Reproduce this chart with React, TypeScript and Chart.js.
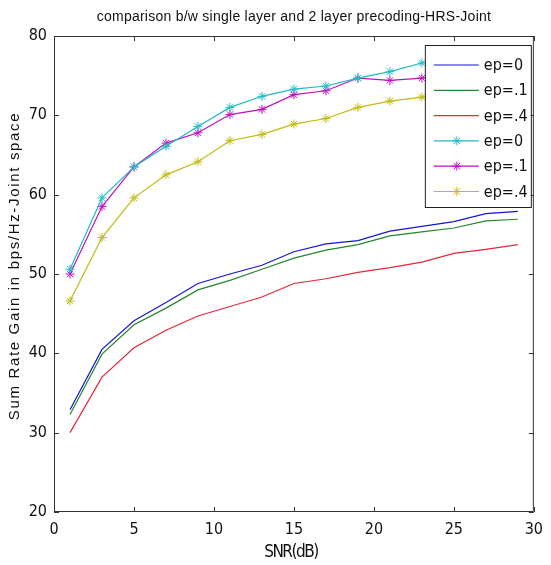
import React, { useEffect, useRef } from "react";
import { Chart, registerables } from "chart.js";

Chart.register(...registerables);

const snr = [1, 3, 5, 7, 9, 11, 13, 15, 17, 19, 21, 23, 25, 27, 29];
const singleEp0 = [32.9, 40.5, 44.1, 46.4, 48.8, 50.0, 51.1, 52.8, 53.8, 54.2, 55.4, 56.0, 56.6, 57.6, 57.9];
const singleEp1 = [32.3, 39.9, 43.6, 45.7, 48.0, 49.2, 50.6, 52.0, 53.0, 53.7, 54.8, 55.3, 55.8, 56.7, 56.9];
const singleEp4 = [30.0, 37.0, 40.7, 42.9, 44.7, 45.9, 47.1, 48.8, 49.4, 50.2, 50.8, 51.5, 52.6, 53.1, 53.7];
const twoEp0 = [50.6, 59.6, 63.5, 66.1, 68.6, 71.0, 72.4, 73.3, 73.7, 74.7, 75.5, 76.6, 77.2, 77.8, 78.3];
const twoEp1 = [50.0, 58.5, 63.5, 66.5, 67.8, 70.1, 70.75, 72.6, 73.1, 74.7, 74.4, 74.7, 75.4, 75.9, 76.6];
const twoEp4 = [46.6, 54.6, 59.6, 62.5, 64.15, 66.8, 67.6, 68.9, 69.6, 71.0, 71.8, 72.3, 72.8, 73.4, 73.9];
const legendLabels = ["ep=0", "ep=.1", "ep=.4", "ep=0", "ep=.1", "ep=.4"];
const titleText = "comparison b/w single layer and 2 layer precoding-HRS-Joint";
const xTitle = "SNR(dB)";
const yTitle = "Sum Rate Gain in bps/Hz-Joint space";

const NARROW = "'Liberation Sans Narrow', 'DejaVu Sans Condensed', 'Arial Narrow', sans-serif";
const REG = "'Liberation Sans', Arial, sans-serif";
const AXIS = "#333333";

function fitText(ctx: CanvasRenderingContext2D, text: string, target: number) {
  (ctx as any).letterSpacing = "0px";
  const w = ctx.measureText(text).width;
  const ls = (target - w) / Math.max(1, text.length - 1);
  (ctx as any).letterSpacing = ls.toFixed(2) + "px";
}

const decorPlugin = {
  id: "decor",
  afterDatasetsDraw(chart: any) {
    const { ctx, chartArea, scales } = chart;
    const { left, right, top, bottom } = chartArea;
    ctx.save();
    ctx.strokeStyle = AXIS;
    ctx.lineWidth = 1;
    ctx.beginPath();
    ctx.rect(left + 0.5, top + 0.5, right - left - 1, bottom - top - 1);
    ctx.stroke();
    const tl = 5;
    ctx.beginPath();
    scales.x.ticks.forEach((t: any) => {
      const px = Math.round(scales.x.getPixelForValue(t.value)) + 0.5;
      ctx.moveTo(px, bottom);
      ctx.lineTo(px, bottom - tl);
      ctx.moveTo(px, top);
      ctx.lineTo(px, top + tl);
    });
    scales.y.ticks.forEach((t: any) => {
      const py = Math.round(scales.y.getPixelForValue(t.value)) + 0.5;
      ctx.moveTo(left, py);
      ctx.lineTo(left + tl, py);
      ctx.moveTo(right, py);
      ctx.lineTo(right - tl, py);
    });
    ctx.stroke();
    ctx.restore();
  },
  afterDraw(chart: any) {
    const { ctx, chartArea } = chart;
    const { left, right, top, bottom } = chartArea;
    ctx.save();
    // title
    ctx.fillStyle = "#111";
    ctx.font = "14px " + REG;
    ctx.textAlign = "center";
    ctx.textBaseline = "middle";
    fitText(ctx, titleText, 394);
    ctx.fillText(titleText, (left + right) / 2, 17);
    // x title
    ctx.font = "17px " + NARROW;
    fitText(ctx, xTitle, 55);
    ctx.fillText(xTitle, (left + right) / 2 - 3, 553);
    // y title
    ctx.save();
    ctx.translate(15, (top + bottom) / 2 - 8);
    ctx.rotate(-Math.PI / 2);
    ctx.font = "15px " + REG;
    fitText(ctx, yTitle, 307);
    ctx.fillText(yTitle, 0, 0);
    ctx.restore();
    (ctx as any).letterSpacing = "0px";

    // legend
    const bx = right - 109;
    const bw = 106;
    const by = top + 9;
    const bh = 162;
    ctx.fillStyle = "#ffffff";
    ctx.fillRect(bx, by, bw, bh);
    ctx.strokeStyle = "#222";
    ctx.lineWidth = 1;
    ctx.strokeRect(bx + 0.5, by + 0.5, bw, bh);
    const ds = chart.data.datasets;
    ds.forEach((d: any, i: number) => {
      const ry = by + 20 + i * 25.3;
      ctx.strokeStyle = d.borderColor;
      ctx.lineWidth = 1.2;
      ctx.beginPath();
      ctx.moveTo(bx + 9, ry);
      ctx.lineTo(bx + 54, ry);
      ctx.stroke();
      if (d.pointRadius > 0) {
        const cx = bx + 32;
        const r = 4.5;
        ctx.lineWidth = 1;
        ctx.beginPath();
        ctx.moveTo(cx - r, ry);
        ctx.lineTo(cx + r, ry);
        ctx.moveTo(cx, ry - r);
        ctx.lineTo(cx, ry + r);
        const q = r * 0.7071;
        ctx.moveTo(cx - q, ry - q);
        ctx.lineTo(cx + q, ry + q);
        ctx.moveTo(cx - q, ry + q);
        ctx.lineTo(cx + q, ry - q);
        ctx.stroke();
      }
      ctx.fillStyle = "#111";
      ctx.font = "16px " + NARROW;
      ctx.textAlign = "left";
      ctx.textBaseline = "middle";
      ctx.fillText(legendLabels[i], bx + 59, ry + 1);
    });
    ctx.restore();
  },
};

function series(vals: number[]) {
  return snr.map((x, i) => ({ x, y: vals[i] }));
}

export default function App() {
  const ref = useRef<HTMLCanvasElement>(null);
  useEffect(() => {
    if (!ref.current) return;
    const mk = (label: string, vals: number[], color: string, marker: boolean) => ({
      label,
      data: series(vals),
      borderColor: color,
      backgroundColor: color,
      borderWidth: 1.2,
      pointRadius: marker ? 4.5 : 0,
      pointHoverRadius: marker ? 4.5 : 0,
      pointStyle: "star",
      pointBorderWidth: 1,
      pointBorderColor: color,
      tension: 0,
      fill: false,
    });
    const chart = new Chart(ref.current, {
      type: "line",
      data: {
        datasets: [
          mk(legendLabels[0], singleEp0, "#1515d8", false),
          mk(legendLabels[1], singleEp1, "#23872f", false),
          mk(legendLabels[2], singleEp4, "#e4283a", false),
          mk(legendLabels[3], twoEp0, "#1fbcc4", true),
          mk(legendLabels[4], twoEp1, "#bf10bf", true),
          mk(legendLabels[5], twoEp4, "#c0bb10", true),
        ] as any,
      },
      options: {
        animation: false,
        responsive: false,
        events: [],
        layout: { padding: { left: 0, right: 8, top: 36, bottom: 0 } },
        plugins: { legend: { display: false }, title: { display: false }, tooltip: { enabled: false } },
        scales: {
          x: {
            type: "linear",
            min: 0,
            max: 30,
            ticks: { stepSize: 5, color: "#111", font: { size: 16, family: NARROW }, padding: 8, maxRotation: 0 },
            grid: { display: false, drawTicks: false },
            border: { display: false },
            afterFit: (s: any) => { s.height = 53; },
          },
          y: {
            type: "linear",
            min: 20,
            max: 80,
            ticks: { stepSize: 10, color: "#111", font: { size: 16, family: NARROW }, padding: 7 },
            grid: { display: false, drawTicks: false },
            border: { display: false },
            afterFit: (s: any) => { s.width = 54; },
          },
        },
      },
      plugins: [decorPlugin],
    });
    return () => chart.destroy();
  }, []);
  return (
    <canvas
      ref={ref}
      width={551}
      height={565}
      style={{ position: "absolute", left: 0, top: 0, width: 551, height: 565, display: "block" }}
    />
  );
}
